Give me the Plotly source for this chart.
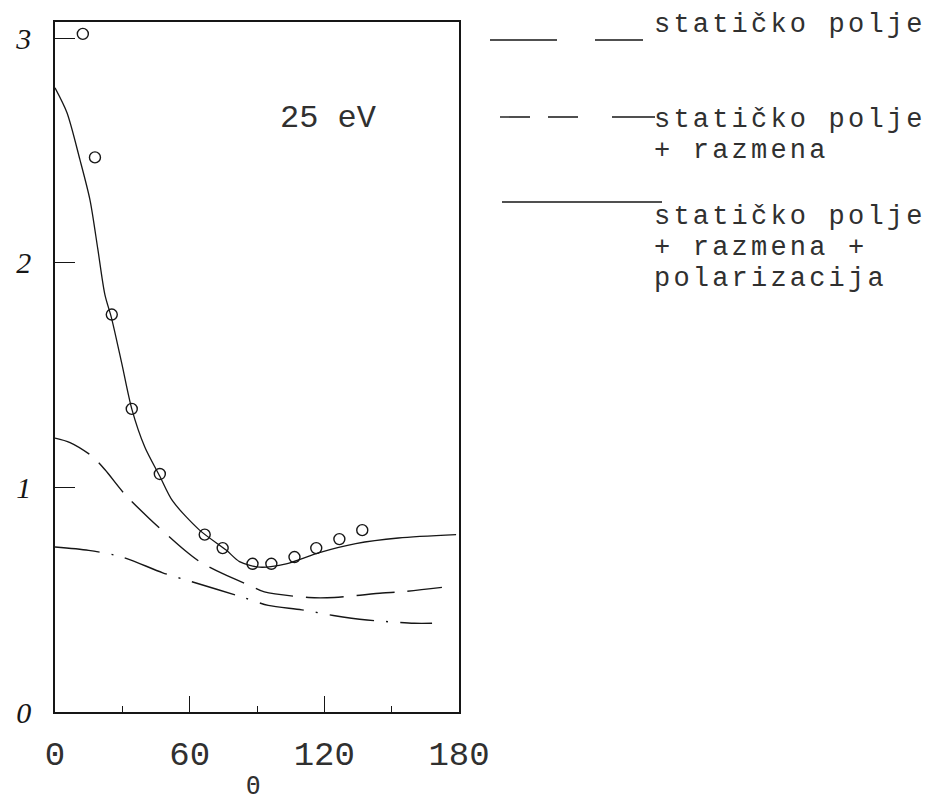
import plotly.graph_objects as go

# ---------------- data ----------------
theta_exp = [12.4, 17.8, 25.3, 34.2, 46.7, 66.7, 74.7, 88.0, 96.4, 106.7, 116.4, 126.7, 136.9]
dcs_exp = [3.02, 2.47, 1.77, 1.35, 1.06, 0.79, 0.73, 0.66, 0.66, 0.69, 0.73, 0.77, 0.81]

# static field + exchange + polarization (solid)
theta_sep = [0, 5.3, 11.1, 15.6, 19.1, 22.2, 25.3, 29.8, 34.2, 40, 46.7, 52.4, 64.4, 76.4, 82.2, 91.1, 103, 117.8, 134, 153, 178.7]
dcs_sep = [2.78, 2.67, 2.46, 2.28, 2.06, 1.86, 1.75, 1.55, 1.35, 1.18, 1.05, 0.94, 0.81, 0.72, 0.67, 0.645, 0.66, 0.71, 0.75, 0.775, 0.79]

# static field + exchange (dashed)
theta_se = [0, 6.7, 16.4, 22.2, 31.1, 42.2, 57.8, 64.4, 75, 87.6, 93.3, 113, 124.4, 145.8, 154, 172.4]
dcs_se = [1.22, 1.20, 1.14, 1.08, 0.97, 0.86, 0.72, 0.67, 0.615, 0.56, 0.535, 0.51, 0.51, 0.53, 0.535, 0.555]

# static field (dash-dot)
theta_s = [0, 15, 30, 48, 61, 84, 95, 110, 124, 139, 160, 168]
dcs_s = [0.735, 0.72, 0.69, 0.62, 0.58, 0.51, 0.475, 0.455, 0.43, 0.41, 0.395, 0.395]

x_tickvals = [0, 60, 120, 180]
x_ticktext = ["0", "60", "120", "180"]
x_minor_ticks = [30, 90, 150]
y_tickvals = [0, 1, 2, 3]
y_ticktext = ["0", "1", "2", "3"]

legend_labels = [
    ["statičko polje"],
    ["statičko polje", "+ razmena"],
    ["statičko polje", "+ razmena +", "polarizacija"],
]
energy_label = "25 eV"
x_title = "Θ"

# ---------------- layout geometry ----------------
W, H = 936, 804
L, R, T, B = 55, 459, 22, 712  # plot-area pixel box
INK = "#161616"
TYPE_INK = "#303030"
MONO = "Liberation Mono, Courier New, monospace"
FS = 27


def px(xp):
    return (xp - L) / (R - L)


def py(yp):
    return (B - yp) / (B - T)


def spaced(s, ls=3.2):
    return '<span style="letter-spacing:%spx">%s</span>' % (ls, s)


fig = go.Figure()

fig.add_trace(go.Scatter(x=theta_s, y=dcs_s, mode="lines", line=dict(color=INK, width=1.4, shape="spline", smoothing=0.8, dash="45px,12px,2px,12px"), showlegend=False, name="statičko polje"))
fig.add_trace(go.Scatter(x=theta_se, y=dcs_se, mode="lines", line=dict(color=INK, width=1.4, shape="spline", smoothing=0.8, dash="38px,13px"), showlegend=False, name="statičko polje + razmena"))
fig.add_trace(go.Scatter(x=theta_sep, y=dcs_sep, mode="lines", line=dict(color=INK, width=1.3, shape="spline", smoothing=0.8), showlegend=False, name="statičko polje + razmena + polarizacija"))
fig.add_trace(go.Scatter(x=theta_exp, y=dcs_exp, mode="markers", marker=dict(symbol="circle-open", size=11, color=INK, line=dict(width=1.4, color=INK)), showlegend=False, name="eksperiment"))

shapes = []
# legend samples
shapes.append(dict(type="line", xref="paper", yref="paper", x0=px(490), x1=px(557), y0=py(40), y1=py(40), line=dict(color=INK, width=1.4)))
shapes.append(dict(type="line", xref="paper", yref="paper", x0=px(595), x1=px(643), y0=py(40), y1=py(40), line=dict(color=INK, width=1.4)))
shapes.append(dict(type="line", xref="paper", yref="paper", x0=px(500), x1=px(580), y0=py(117), y1=py(117), line=dict(color=INK, width=1.4, dash="30px,18px")))
shapes.append(dict(type="line", xref="paper", yref="paper", x0=px(612), x1=px(655), y0=py(117), y1=py(117), line=dict(color=INK, width=1.4)))
shapes.append(dict(type="line", xref="paper", yref="paper", x0=px(502), x1=px(662), y0=py(202), y1=py(202), line=dict(color=INK, width=1.4)))

annotations = []
legend_rows = [[25], [120, 151], [217, 248, 279]]
for labels, rows in zip(legend_labels, legend_rows):
    for text, yc in zip(labels, rows):
        annotations.append(dict(text=spaced(text), xref="paper", yref="paper", x=px(652), y=py(yc),
                                xanchor="left", yanchor="middle", showarrow=False,
                                font=dict(family=MONO, size=FS, color=TYPE_INK)))

annotations.append(dict(text=energy_label, xref="x", yref="y", x=122, y=2.645, xanchor="center", yanchor="middle", showarrow=False, font=dict(family=MONO, size=32, color=TYPE_INK)))
# axis title placed just under the tick labels, centred on the axis
annotations.append(dict(text=x_title, xref="paper", yref="paper", x=0.49, y=py(786), xanchor="center", yanchor="middle", showarrow=False, font=dict(family="DejaVu Sans Mono", size=24, color=TYPE_INK)))

fig.update_layout(
    width=W, height=H,
    margin=dict(l=L, r=W - R, t=T, b=H - B, autoexpand=False),
    paper_bgcolor="white", plot_bgcolor="white",
    shapes=shapes, annotations=annotations,
    showlegend=False,
)

fig.update_xaxes(
    range=[0, 180], showgrid=False, zeroline=False,
    showline=True, mirror=True, linecolor=INK, linewidth=1.5,
    tickvals=x_tickvals, ticktext=x_ticktext, ticks="inside", ticklen=16, tickwidth=1.3, tickcolor=INK,
    minor=dict(tickvals=x_minor_ticks, ticks="inside", ticklen=6, tickwidth=1.3, tickcolor=INK),
    tickfont=dict(family=MONO, size=34, color=TYPE_INK), ticklabelstandoff=10,
    automargin=False,
)
fig.update_yaxes(
    range=[0, 3.073], showgrid=False, zeroline=False,
    showline=True, mirror=True, linecolor=INK, linewidth=1.5,
    tickvals=y_tickvals, ticktext=y_ticktext, ticks="inside", ticklen=20, tickwidth=1.3, tickcolor=INK,
    tickfont=dict(family="Liberation Serif", size=30, color=INK, style="italic"), ticklabelstandoff=16,
    automargin=False,
)

fig.write_html("out.html")
